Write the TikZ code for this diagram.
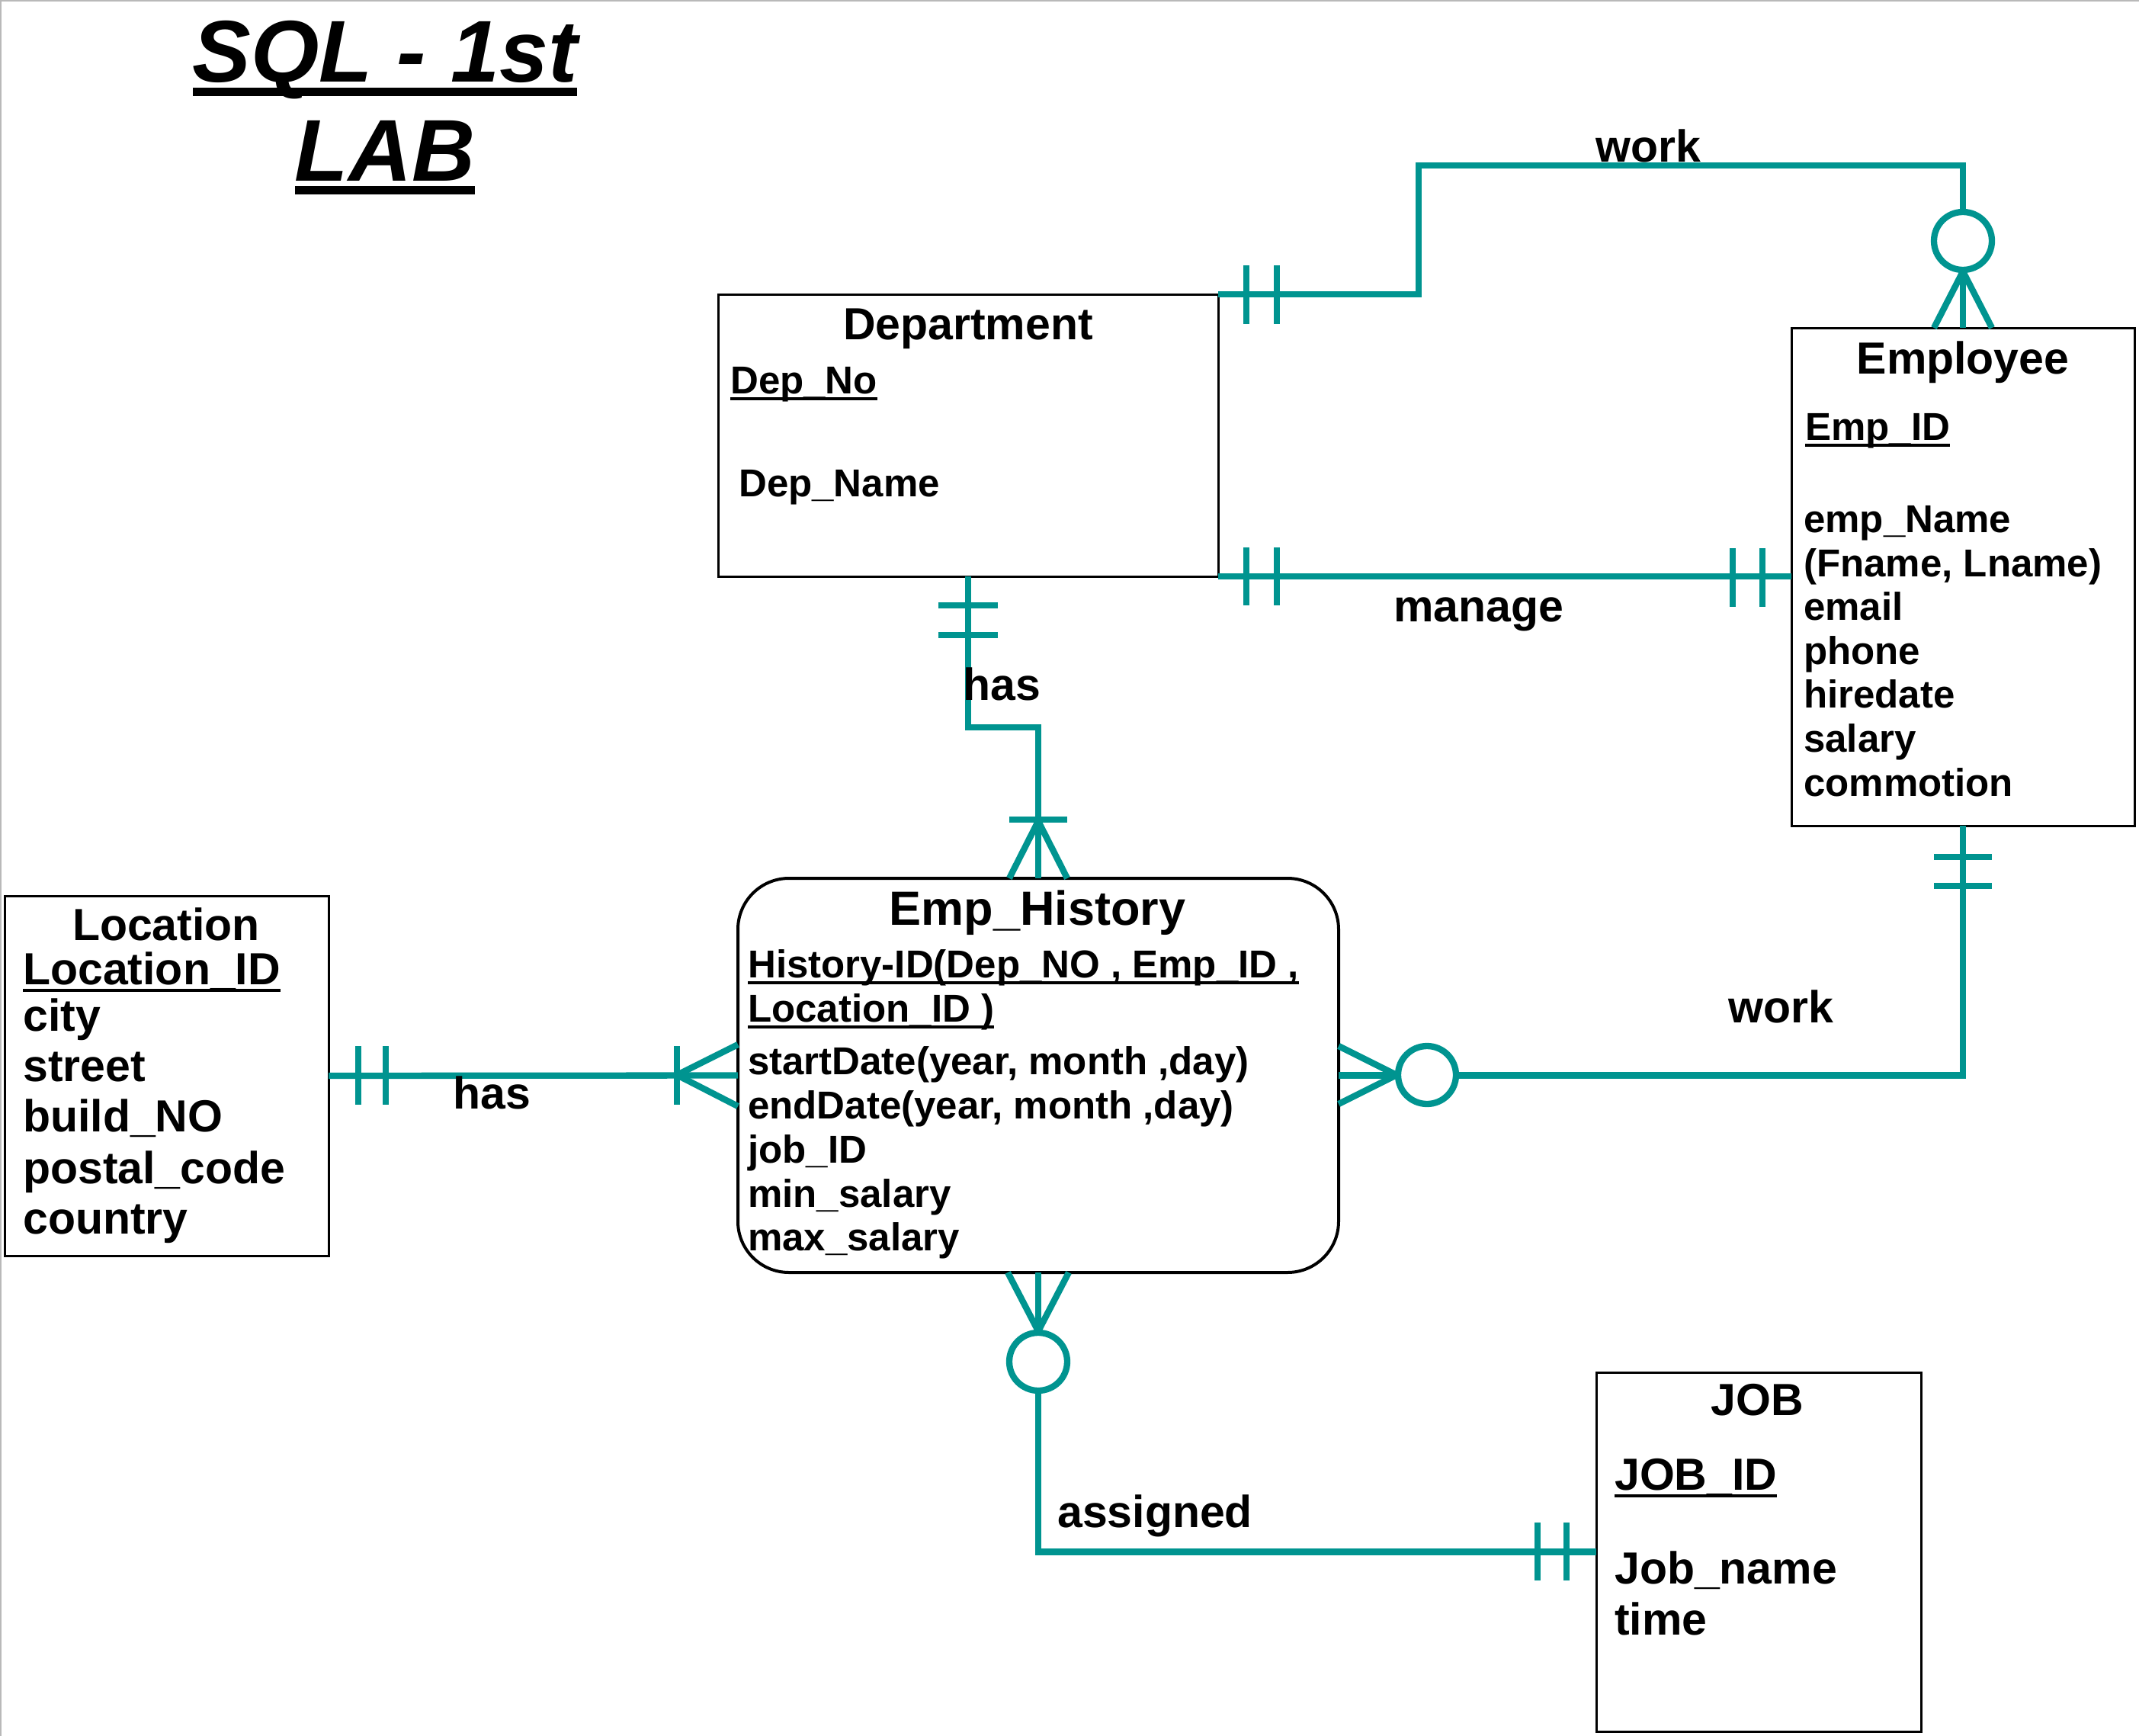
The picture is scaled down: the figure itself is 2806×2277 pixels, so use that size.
\documentclass[tikz,border=0pt]{standalone}
\usepackage{fontspec}
\setmainfont{Liberation Sans}
\usetikzlibrary{calc}
\definecolor{teal1}{RGB}{0,148,144}
\newcommand\ulx[1]{\setbox0=\hbox{#1}\rlap{\vrule height -0.1em depth 0.175em width \wd0}\box0}
\newcommand\ult[1]{\setbox0=\hbox{#1}\rlap{\vrule height -0.06em depth 0.155em width \wd0}\box0}
\begin{document}
\begin{tikzpicture}[x=1pt,y=1pt,
  box/.style={draw=black, line width=3pt, inner sep=0pt, outer sep=0pt},
  rel/.style={draw=teal1, line width=8.3pt},
  circ/.style={draw=teal1, line width=8.3pt, fill=white},
  att/.style={font=\fontsize{51}{58}\selectfont\bfseries, anchor=base west, inner sep=0pt},
  ttl/.style={font=\fontsize{59}{66}\selectfont\bfseries, anchor=base, inner sep=0pt},
  big/.style={font=\fontsize{59}{66}\selectfont\bfseries, anchor=base west, inner sep=0pt},
  head/.style={font=\fontsize{115}{130}\selectfont\bfseries\itshape, anchor=base, inner sep=0pt}]
\useasboundingbox (0,0) rectangle (2806,-2277);
\draw[gray!55, line width=2pt] (1,-2277) -- (1,-1) -- (2806,-1);

% title
\node[head] (t1) at (505,-108) {\ult{SQL - 1st}};
\node[head] (t2) at (505,-237) {\ult{LAB}};

% entity boxes
\node[box, minimum width=656pt, minimum height=370pt] (dep) at (1270,-571) {};
\node[box, minimum width=450pt, minimum height=653pt] (emp) at (2575,-756.5) {};
\node[box, line width=4pt, rounded corners=67pt, minimum width=788pt, minimum height=517pt] (eh) at (1362,-1410.5) {};
\node[box, minimum width=425pt, minimum height=472pt] (loc) at (218.5,-1411) {};
\node[box, minimum width=426pt, minimum height=471pt] (job) at (2307,-2035.5) {};

% Department text
\node[ttl] (depT) at (1270,-445) {Department};
\node[att] (depA1) at (958,-516) {\ulx{Dep\_No}};
\node[att] (depA2) at (969,-651) {Dep\_Name};

% Employee text
\node[ttl] (empT) at (2575,-490) {Employee};
\node[att] (empA0) at (2368,-577) {\ulx{Emp\_ID}};
\node[att] (empA1) at (2366,-698) {emp\_Name};
\node[att] (empA2) at (2366,-756) {(Fname, Lname)};
\node[att] (empA3) at (2366,-813) {email};
\node[att] (empA4) at (2366,-871) {phone};
\node[att] (empA5) at (2366,-928) {hiredate};
\node[att] (empA6) at (2366,-986) {salary};
\node[att] (empA7) at (2366,-1044) {commotion};

% Emp_History text
\node[ttl, font=\fontsize{63}{70}\selectfont\bfseries] (ehT) at (1361,-1213) {Emp\_History};
\node[att] (ehA0) at (981,-1282) {\ulx{History-ID(Dep\_NO , Emp\_ID ,}};
\node[att] (ehA1) at (981,-1340) {\ulx{Location\_ID )}};
\node[att] (ehA2) at (981,-1409) {startDate(year, month ,day)};
\node[att] (ehA3) at (981,-1467) {endDate(year, month ,day)};
\node[att] (ehA4) at (981,-1525) {job\_ID};
\node[att] (ehA5) at (981,-1583) {min\_salary};
\node[att] (ehA6) at (981,-1640) {max\_salary};

% Location text
\node[ttl] (locT) at (218,-1233) {Location};
\node[big] (locA0) at (30,-1291) {\ulx{Location\_ID}};
\node[big] (locA1) at (30,-1352) {city};
\node[big] (locA2) at (30,-1418) {street};
\node[big] (locA3) at (30,-1484) {build\_NO};
\node[big] (locA4) at (30,-1552) {postal\_code};
\node[big] (locA5) at (30,-1618) {country};

% JOB text
\node[ttl] (jobT) at (2305,-1856) {JOB};
\node[big] (jobA0) at (2118,-1954) {\ulx{JOB\_ID}};
\node[big] (jobA1) at (2118,-2077) {Job\_name};
\node[big] (jobA2) at (2118,-2144) {time};

% ---------- connectors ----------
\coordinate (w1) at (1861,-217);
\coordinate (h1) at (1362,-954);

% 1. Department -- Employee (work)
\draw[rel] (dep.north east) -| (w1) -| (emp.north);
\draw[rel] (1635,-348) -- (1635,-425);
\draw[rel] (1675,-348) -- (1675,-425);
\draw[rel] (2537,-430) -- (2575,-356) -- (2613,-430);
\draw[circ] (2575,-316) circle (38);

% 2. Department -- Employee (manage)
\draw[rel] (dep.south east) -- (dep.south east -| emp.west);
\draw[rel] (1635,-718) -- (1635,-794);
\draw[rel] (1675,-718) -- (1675,-794);
\draw[rel] (2273,-719) -- (2273,-796);
\draw[rel] (2312,-719) -- (2312,-796);

% 3. Department -- Emp_History (has)
\draw[rel] (dep.south) |- (h1) -- (eh.north);
\draw[rel] (1231,-794) -- (1309,-794);
\draw[rel] (1231,-833) -- (1309,-833);
\draw[rel] (1324,-1075) -- (1400,-1075);
\draw[rel] (1324,-1152) -- (1362,-1077) -- (1400,-1152);

% 4. Location -- Emp_History (has)
\draw[rel] (loc.east) -- (eh.west);
\draw[rel] (470,-1372) -- (470,-1449);
\draw[rel] (506,-1372) -- (506,-1449);
\draw[rel] (888,-1372) -- (888,-1449);
\draw[rel] (968,-1370) -- (888,-1410) -- (968,-1451);

% 5. Emp_History -- Employee (work)
\draw[rel] (eh.east) -| (emp.south);
\draw[rel] (2537,-1124) -- (2613,-1124);
\draw[rel] (2537,-1162) -- (2613,-1162);
\draw[rel] (1756,-1372) -- (1832,-1410) -- (1756,-1448);
\draw[circ] (1872,-1410) circle (38);

% 6. Emp_History -- JOB (assigned)
\draw[rel] (eh.south) |- (job.west);
\draw[rel] (1322,-1669) -- (1362,-1746) -- (1402,-1669);
\draw[circ] (1362,-1786) circle (38);
\draw[rel] (2017,-1997) -- (2017,-2073);
\draw[rel] (2055,-1997) -- (2055,-2073);

% relationship labels
\node[ttl] (lWork1) at (2162,-213) {work};
\node[ttl] (lManage) at (1940,-815) {manage};
\node[big] (lHas1) at (1263,-918) {has};
\node[big] (lHas2) at (594,-1454) {has};
\node[big] (lWork2) at (2267,-1341) {work};
\node[big] (lAssigned) at (1387,-2003) {assigned};
\end{tikzpicture}
\end{document}
